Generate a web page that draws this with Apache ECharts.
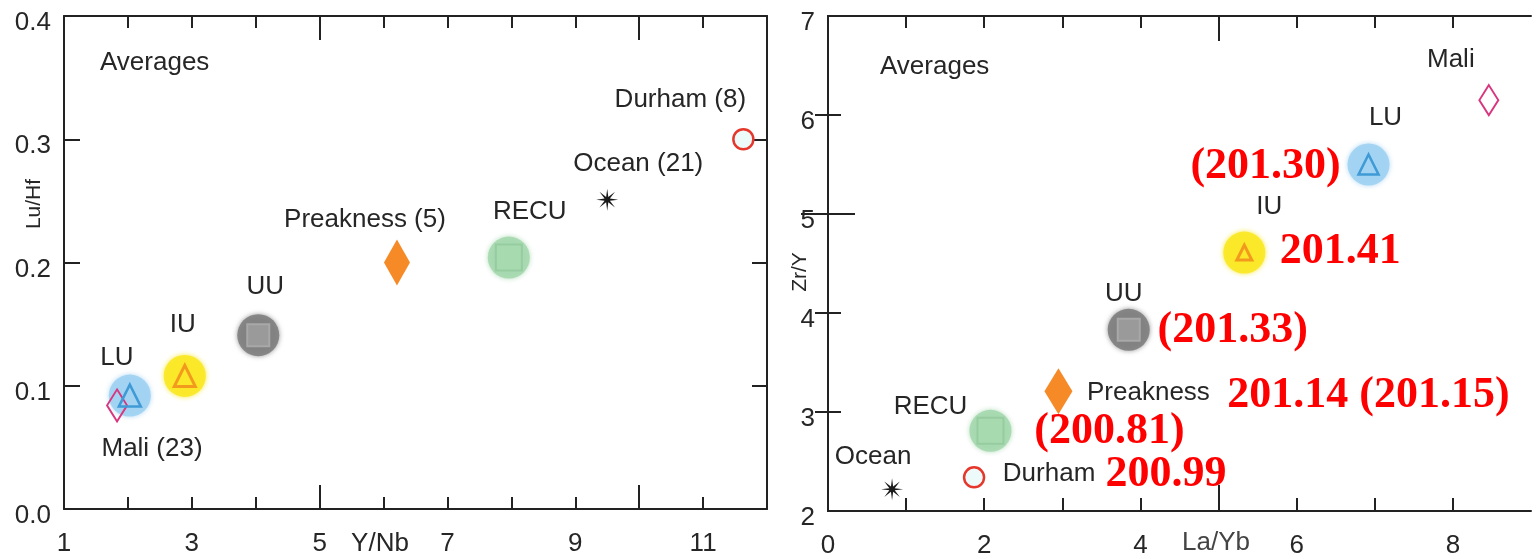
<!DOCTYPE html>
<html>
<head>
<meta charset="utf-8">
<title>Averages: Lu/Hf vs Y/Nb and Zr/Y vs La/Yb</title>
<script src="https://cdn.jsdelivr.net/npm/echarts@6/dist/echarts.min.js"></script>
<style>
  html, body { margin: 0; padding: 0; background: #fff; }
  #chart { width: 1538px; height: 559px; }
</style>
</head>
<body>
<div id="chart"></div>
<script>
// ---- data ----
const GROUPS = ['Mali', 'LU', 'IU', 'UU', 'Preakness', 'RECU', 'Ocean', 'Durham'];
const Y_NB  = [1.83, 2.03, 2.89, 4.04, 6.21, 7.96, 9.50, 11.63];
const LU_HF = [0.084, 0.092, 0.108, 0.141, 0.200, 0.204, 0.251, 0.300];
const LA_YB = [8.46, 6.92, 5.33, 3.85, 2.95, 2.08, 0.82, 1.87];
const ZR_Y  = [6.15, 5.50, 4.61, 3.83, 3.21, 2.81, 2.22, 2.34];
const LEFT_NAMES  = ['Mali (23)', 'LU', 'IU', 'UU', 'Preakness (5)', 'RECU', 'Ocean (21)', 'Durham (8)'];
const RIGHT_NAMES = ['Mali', 'LU', 'IU', 'UU', 'Preakness', 'RECU', 'Ocean', 'Durham'];
const AGES = ['', '(201.30)', '201.41', '(201.33)', '201.14 (201.15)', '(200.81)', '', '200.99'];

const LEFT_X_LABELS  = [1, 3, 5, 7, 9, 11];
const LEFT_Y_LABELS  = [0, 0.1, 0.2, 0.3, 0.4];
const RIGHT_X_LABELS = [0, 2, 4, 6, 8];
const RIGHT_Y_LABELS = [2, 3, 4, 5, 6, 7];

// ---- styling ----
const SANS = '"Liberation Sans", Arial, sans-serif';
const SERIF = '"Liberation Serif", "Times New Roman", serif';
const INK = '#222';
const TXT = '#262626';

// thin eight-spoke star used as an asterisk marker
function asteriskPath(n, R, r) {
  let d = '';
  for (let i = 0; i < 2 * n; i++) {
    const a = i * Math.PI / n - Math.PI / 2;
    const rad = i % 2 ? r : R;
    const x = (R + rad * Math.cos(a)).toFixed(2);
    const y = (R + rad * Math.sin(a)).toFixed(2);
    d += (i ? 'L' : 'M') + x + ' ' + y;
  }
  return 'path://' + d + 'Z';
}
const ASTERISK = asteriskPath(8, 10, 2.6);

// marker look per group, for the left (l) and right (r) panels
const STYLE = {
  Mali:      { symbol: 'diamond', l: [20, 32], r: [19, 30], fill: 'rgba(255,255,255,0)', stroke: '#d8367f', bw: 2 },
  LU:        { symbol: 'triangle', l: 22, r: 20, fill: 'rgba(255,255,255,0)', stroke: '#3f9ad6', bw: 2.5, halo: 'rgba(160,210,242,0.9)' },
  IU:        { symbol: 'triangle', l: 21, r: 15, fill: 'rgba(255,255,255,0)', stroke: '#f39a1e', bw: 3, halo: 'rgba(250,232,40,0.95)' },
  UU:        { symbol: 'rect', l: 22, r: 22, fill: 'rgba(190,190,190,0.4)', stroke: '#a8a8a8', bw: 2, halo: 'rgba(128,128,128,0.9)' },
  Preakness: { symbol: 'diamond', l: [26, 46], r: [28, 46], fill: '#f68a27', stroke: '#f68a27', bw: 0 },
  RECU:      { symbol: 'rect', l: 26, r: 26, fill: 'rgba(170,220,178,0.4)', stroke: '#96cc9f', bw: 2, halo: 'rgba(165,216,174,0.9)' },
  Ocean:     { symbol: ASTERISK, l: 22, r: 22, fill: '#1a1a1a', stroke: '#1a1a1a', bw: 0 },
  Durham:    { symbol: 'circle', l: 20, r: 20, fill: 'rgba(235,250,250,0.9)', stroke: '#e5372b', bw: 2.5 }
};
const HALO_SIZE = 42;

// label offsets from the marker centre, in pixels
const LEFT_LABEL_OFFSET = {
  Mali: [35, 43], LU: [-13, -38], IU: [-2, -51], UU: [7, -48],
  Preakness: [-32, -43], RECU: [21, -46], Ocean: [31, -36], Durham: [-63, -39]
};
const RIGHT_LABEL_OFFSET = {
  Mali: [-38, -40], LU: [17, -47], IU: [25, -46], UU: [-5, -36],
  Preakness: [90, 2], RECU: [-60, -24], Ocean: [-19, -32], Durham: [75, -4]
};
const AGE_OFFSET = {
  LU: [-103, 2], IU: [96, -1], UU: [104, 1], Preakness: [310, 4], RECU: [119, 1], Durham: [192, -3]
};

// ---- series builders ----
function haloData(xs, ys) {
  return GROUPS.map((g, i) => STYLE[g].halo ? {
    value: [xs[i], ys[i]],
    itemStyle: { color: STYLE[g].halo, opacity: 1, shadowBlur: 5, shadowColor: STYLE[g].halo }
  } : null).filter(Boolean);
}

function markerData(xs, ys, side, names, offsets) {
  return GROUPS.map((g, i) => {
    const s = STYLE[g];
    return {
      name: names[i],
      value: [xs[i], ys[i]],
      symbol: s.symbol,
      symbolSize: s[side],
      itemStyle: { color: s.fill, borderColor: s.stroke, borderWidth: s.bw, opacity: 1 },
      label: {
        show: true, position: 'inside', offset: offsets[g],
        formatter: names[i], color: TXT, fontFamily: SANS, fontSize: 26
      }
    };
  });
}

function ageData(xs, ys) {
  return GROUPS.map((g, i) => AGES[i] ? {
    value: [xs[i], ys[i]],
    itemStyle: { color: 'rgba(0,0,0,0)', opacity: 1 },
    label: {
      show: true, position: 'inside', offset: AGE_OFFSET[g], formatter: AGES[i],
      color: '#ff0000', fontFamily: SERIF, fontWeight: 'bold', fontSize: 44
    }
  } : null).filter(Boolean);
}

// ---- axes ----
const AXIS_LINE = { show: true, lineStyle: { color: INK, width: 2 } };
const tickStyle = (len, values) => ({
  show: true, inside: true, length: len, customValues: values,
  lineStyle: { color: INK, width: 2 }
});
const noLabel = { show: false };
const noSplit = { show: false };

function xAxes(grid, min, max, pos, labels, minor, major, minorLen, majorLen) {
  const base = { type: 'value', gridIndex: grid, min, max, position: pos, splitLine: noSplit };
  return [
    Object.assign({}, base, {
      axisLine: AXIS_LINE,
      axisTick: tickStyle(minorLen, minor),
      axisLabel: labels ? {
        show: true, customValues: labels, margin: 22,
        color: TXT, fontFamily: SANS, fontSize: 26
      } : noLabel
    }),
    Object.assign({}, base, {
      axisLine: { show: false },
      axisTick: tickStyle(majorLen, major),
      axisLabel: noLabel
    })
  ];
}

function yAxes(grid, min, max, pos, labels, fmt, minor, major, minorLen, majorLen) {
  const base = { type: 'value', gridIndex: grid, min, max, position: pos, splitLine: noSplit };
  const list = [
    Object.assign({}, base, {
      axisLine: AXIS_LINE,
      axisTick: tickStyle(minorLen, minor),
      axisLabel: labels ? {
        show: true, customValues: labels, margin: 13, formatter: fmt,
        verticalAlign: 'top', lineHeight: 14,
        color: TXT, fontFamily: SANS, fontSize: 26
      } : noLabel
    })
  ];
  if (major && major.length) {
    list.push(Object.assign({}, base, {
      axisLine: { show: false },
      axisTick: tickStyle(majorLen, major),
      axisLabel: noLabel
    }));
  }
  return list;
}

// left panel: x axes 0-3, y axes 0-1; right panel: x axes 4-7, y axes 2-5
const xAxisList = [].concat(
  xAxes(0, 1, 12, 'bottom', LEFT_X_LABELS, [2, 3, 4, 6, 7, 8, 9, 11], [5, 10], 12, 24),
  xAxes(0, 1, 12, 'top', null, [2, 3, 4, 6, 7, 8, 9, 11], [5, 10], 12, 24),
  xAxes(1, 0, 9, 'bottom', RIGHT_X_LABELS, [1, 2, 3, 4, 6, 7, 8], [5], 13, 26),
  xAxes(1, 0, 9, 'top', null, [1, 2, 3, 4, 6, 7, 8], [5], 12, 25)
);
const yAxisList = [].concat(
  yAxes(0, 0, 0.4, 'left', LEFT_Y_LABELS, v => v.toFixed(1), [0.1, 0.2, 0.3], null, 16, 0),
  yAxes(0, 0, 0.4, 'right', null, null, [0.1, 0.2, 0.3], null, 15, 0),
  yAxes(1, 2, 7, 'left', RIGHT_Y_LABELS, v => String(v), [3, 4, 6], [5], 13, 27),
  yAxes(1, 2, 7, 'right', null, null, [3, 4, 6], [5], 13, 27)
);

const chart = echarts.init(document.getElementById('chart'), null, { renderer: 'canvas' });

chart.setOption({
  animation: false,
  backgroundColor: '#fff',
  grid: [
    { left: 64, right: 771, top: 16, bottom: 50 },
    { left: 828, right: 7, top: 16, bottom: 47 }
  ],
  xAxis: xAxisList,
  yAxis: yAxisList,
  graphic: [
    { type: 'text', left: 100, top: 50, style: { text: 'Averages', fill: TXT, font: '26px ' + SANS } },
    { type: 'text', left: 880, top: 54, style: { text: 'Averages', fill: TXT, font: '26px ' + SANS } },
    { type: 'text', x: 380, y: 544, style: { text: 'Y/Nb', fill: TXT, font: '26px ' + SANS, align: 'center', verticalAlign: 'middle' } },
    { type: 'text', x: 1216, y: 543, style: { text: 'La/Yb', fill: '#444', font: '26px ' + SANS, align: 'center', verticalAlign: 'middle' } },
    { type: 'text', x: 34, y: 204, rotation: Math.PI / 2, style: { text: 'Lu/Hf', fill: TXT, font: '21px ' + SANS, align: 'center', verticalAlign: 'middle' } },
    { type: 'text', x: 800, y: 272, rotation: Math.PI / 2, style: { text: 'Zr/Y', fill: TXT, font: '21px ' + SANS, align: 'center', verticalAlign: 'middle' } }
  ],
  series: [
    {
      type: 'scatter', name: 'halo-left', xAxisIndex: 0, yAxisIndex: 0, silent: true, z: 2,
      symbol: 'circle', symbolSize: HALO_SIZE, data: haloData(Y_NB, LU_HF)
    },
    {
      type: 'scatter', name: 'marker-left', xAxisIndex: 0, yAxisIndex: 0, silent: true, z: 3,
      data: markerData(Y_NB, LU_HF, 'l', LEFT_NAMES, LEFT_LABEL_OFFSET)
    },
    {
      type: 'scatter', name: 'halo-right', xAxisIndex: 4, yAxisIndex: 2, silent: true, z: 2,
      symbol: 'circle', symbolSize: HALO_SIZE, data: haloData(LA_YB, ZR_Y)
    },
    {
      type: 'scatter', name: 'marker-right', xAxisIndex: 4, yAxisIndex: 2, silent: true, z: 3,
      data: markerData(LA_YB, ZR_Y, 'r', RIGHT_NAMES, RIGHT_LABEL_OFFSET)
    },
    {
      type: 'scatter', name: 'age-right', xAxisIndex: 4, yAxisIndex: 2, silent: true, z: 4,
      symbol: 'circle', symbolSize: 1,
      data: ageData(LA_YB, ZR_Y)
    }
  ]
});
</script>
</body>
</html>
